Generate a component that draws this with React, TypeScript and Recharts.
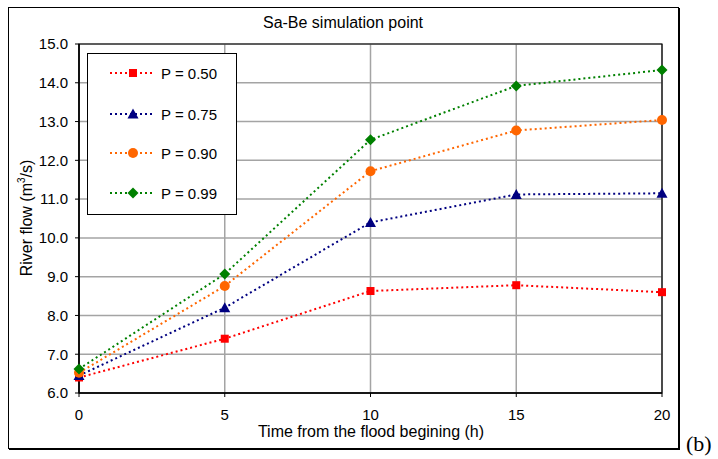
import { LineChart, Line, XAxis, YAxis, CartesianGrid, ReferenceArea } from "recharts";

const hours = [0, 5, 10, 15, 20];
const flowP050 = [6.4, 7.4, 8.63, 8.78, 8.6];
const flowP075 = [6.45, 8.2, 10.4, 11.12, 11.15];
const flowP090 = [6.52, 8.76, 11.72, 12.77, 13.04];
const flowP099 = [6.62, 9.07, 12.53, 13.92, 14.33];
const yTicks = [6, 7, 8, 9, 10, 11, 12, 13, 14, 15];
const xTicks = [0, 5, 10, 15, 20];

const SERIES = [
  { key: "p050", name: "P = 0.50", color: "#ff0000", shape: "square", values: flowP050 },
  { key: "p075", name: "P = 0.75", color: "#000080", shape: "triangle", values: flowP075 },
  { key: "p090", name: "P = 0.90", color: "#ff6600", shape: "circle", values: flowP090 },
  { key: "p099", name: "P = 0.99", color: "#008000", shape: "diamond", values: flowP099 },
];

const data = hours.map((h, i) => {
  const row: any = { h };
  SERIES.forEach((s) => (row[s.key] = s.values[i]));
  return row;
});

const FONT = "'Liberation Sans', Arial, sans-serif";

function Marker({ cx, cy, shape, color }: any) {
  if (cx == null || cy == null) return null;
  if (shape === "square") return <rect x={cx - 4} y={cy - 4} width={8} height={8} fill={color} />;
  if (shape === "triangle")
    return <polygon points={`${cx},${cy - 5.5} ${cx + 5.5},${cy + 4.5} ${cx - 5.5},${cy + 4.5}`} fill={color} />;
  if (shape === "circle") return <circle cx={cx} cy={cy} r={5} fill={color} />;
  return <polygon points={`${cx},${cy - 5.5} ${cx + 5.5},${cy} ${cx},${cy + 5.5} ${cx - 5.5},${cy}`} fill={color} />;
}

export default function App() {
  return (
    <div style={{ position: "absolute", left: 0, top: 0, width: 718, height: 459, background: "#fff", fontFamily: FONT }}>
      {/* outer frame */}
      <div
        style={{
          position: "absolute",
          left: 8,
          top: 7,
          width: 669,
          height: 440,
          border: "1px solid #000",
          boxShadow: "1px 1px 0 #000",
        }}
      />
      <div style={{ position: "absolute", left: 0, top: 0 }}>
        <LineChart width={718} height={459} data={data} margin={{ top: 44, right: 56, bottom: 26, left: 19 }}>
          <CartesianGrid stroke="#a4a4a4" strokeWidth={1.5} />
          <XAxis
            dataKey="h"
            type="number"
            domain={[0, 20]}
            ticks={xTicks}
            height={40}
            tickSize={4}
            tickMargin={12}
            axisLine={{ stroke: "#000", strokeWidth: 1.5 }}
            tickLine={{ stroke: "#000" }}
            tick={{ fill: "#000", fontSize: 15, fontFamily: FONT }}
          />
          <YAxis
            type="number"
            domain={[6, 15]}
            ticks={yTicks}
            width={60}
            tickSize={4}
            tickMargin={7}
            tickFormatter={(v: number) => v.toFixed(1)}
            axisLine={{ stroke: "#000", strokeWidth: 1.5 }}
            tickLine={{ stroke: "#000" }}
            tick={{ fill: "#000", fontSize: 15, fontFamily: FONT }}
          />
          <ReferenceArea x1={0} x2={20} y1={6} y2={15} fill="none" stroke="#000" strokeWidth={1.2} />
          {SERIES.map((s) => (
            <Line
              key={s.key}
              dataKey={s.key}
              type="linear"
              stroke={s.color}
              strokeWidth={2}
              strokeDasharray="2 3"
              isAnimationActive={false}
              dot={(p: any) => <Marker key={`${s.key}-${p.index}`} cx={p.cx} cy={p.cy} shape={s.shape} color={s.color} />}
              activeDot={false}
            />
          ))}
        </LineChart>
      </div>

      {/* legend */}
      <div
        style={{
          position: "absolute",
          left: 87,
          top: 53,
          width: 148,
          height: 160,
          border: "1px solid #000",
          background: "#fff",
        }}
      >
        {SERIES.map((s, i) => (
          <div key={s.key} style={{ position: "absolute", left: 0, top: [9, 50, 89, 129][i], height: 20, display: "flex", alignItems: "center" }}>
            <svg width={72} height={20} style={{ display: "block" }}>
              <line x1={22} y1={10} x2={67} y2={10} stroke={s.color} strokeWidth={2} strokeDasharray="2 3" />
              <Marker cx={45} cy={10} shape={s.shape} color={s.color} />
            </svg>
            <span style={{ fontSize: 15, color: "#000", marginLeft: 1 }}>{s.name}</span>
          </div>
        ))}
      </div>

      {/* title */}
      <div style={{ position: "absolute", left: 0, width: 686, top: 14, textAlign: "center", fontSize: 16, color: "#000" }}>
        Sa-Be simulation point
      </div>

      {/* x label */}
      <div style={{ position: "absolute", left: 0, width: 742, top: 423, textAlign: "center", fontSize: 16, color: "#000" }}>
        Time from the flood begining (h)
      </div>

      {/* y label */}
      <div
        style={{
          position: "absolute",
          left: 26,
          top: 218,
          transform: "translate(-50%, -50%) rotate(-90deg)",
          whiteSpace: "nowrap",
          fontSize: 16,
          color: "#000",
        }}
      >
        River flow (m<sup style={{ fontSize: 10 }}>3</sup>/s)
      </div>

      {/* panel tag */}
      <div style={{ position: "absolute", left: 686, top: 431, fontSize: 22, fontFamily: "'Liberation Serif', serif", color: "#000" }}>
        (b)
      </div>
    </div>
  );
}
